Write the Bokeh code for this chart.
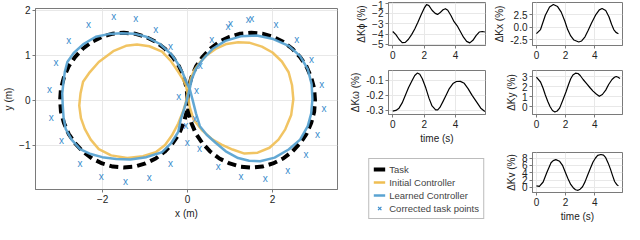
from bokeh.plotting import figure
from bokeh.layouts import row, column
from bokeh.models import (Range1d, FixedTicker, PrintfTickFormatter, ColumnDataSource,
                          Legend, LegendItem)
from bokeh.core.properties import value
from bokeh.embed import file_html
from bokeh.resources import INLINE

FONT = "Liberation Sans"

# ---------------- main trajectory data (m) ----------------
task_x = [0.00, -0.02, -0.09, -0.20, -0.35, -0.54, -0.75, -0.99, -1.24, -1.50, -1.76, -2.01,
          -2.25, -2.46, -2.65, -2.80, -2.91, -2.98, -3.00, -2.98, -2.91, -2.80, -2.65, -2.46,
          -2.25, -2.01, -1.76, -1.50, -1.24, -0.99, -0.75, -0.54, -0.35, -0.20, -0.09, -0.02,
          0.00, 0.02, 0.09, 0.20, 0.35, 0.54, 0.75, 0.99, 1.24, 1.50, 1.76, 2.01, 2.25, 2.46,
          2.65, 2.80, 2.91, 2.98, 3.00, 2.98, 2.91, 2.80, 2.65, 2.46, 2.25, 2.01, 1.76, 1.50,
          1.24, 0.99, 0.75, 0.54, 0.35, 0.20, 0.09, 0.02, 0.00]
task_y = [0.00, 0.26, 0.51, 0.75, 0.96, 1.15, 1.30, 1.41, 1.48, 1.50, 1.48, 1.41,
          1.30, 1.15, 0.96, 0.75, 0.51, 0.26, 0.00, -0.26, -0.51, -0.75, -0.96, -1.15,
          -1.30, -1.41, -1.48, -1.50, -1.48, -1.41, -1.30, -1.15, -0.96, -0.75, -0.51, -0.26,
          0.00, -0.26, -0.51, -0.75, -0.96, -1.15, -1.30, -1.41, -1.48, -1.50, -1.48, -1.41,
          -1.30, -1.15, -0.96, -0.75, -0.51, -0.26, 0.00, 0.26, 0.51, 0.75, 0.96, 1.15, 1.30,
          1.41, 1.48, 1.50, 1.48, 1.41, 1.30, 1.15, 0.96, 0.75, 0.51, 0.26, 0.00]

init_x = [0.00, -0.04, -0.12, -0.22, -0.40, -0.60, -0.90, -1.19, -1.45, -1.75, -2.09, -2.32,
          -2.46, -2.52, -2.55, -2.51, -2.42, -2.28, -2.09, -1.80, -1.42, -1.05, -0.75, -0.53,
          -0.37, -0.22, -0.11, -0.04, 0.00, 0.07, 0.16, 0.29, 0.45, 0.66, 0.92, 1.19, 1.45,
          1.75, 2.00, 2.22, 2.38, 2.46, 2.49, 2.44, 2.30, 2.14, 1.93, 1.65, 1.34, 1.06, 0.80,
          0.59, 0.35, 0.14, 0.05, 0.00]
init_y = [0.15, 0.33, 0.48, 0.63, 0.88, 1.08, 1.20, 1.24, 1.21, 1.09, 0.85, 0.60,
          0.41, 0.15, -0.12, -0.40, -0.64, -0.88, -1.09, -1.23, -1.29, -1.25, -1.16, -1.00,
          -0.79, -0.52, -0.26, -0.05, 0.15, 0.47, 0.67, 0.84, 1.00, 1.14, 1.25, 1.29, 1.28,
          1.19, 1.06, 0.86, 0.62, 0.33, 0.02, -0.33, -0.65, -0.88, -1.06, -1.17, -1.19, -1.10,
          -0.99, -0.88, -0.68, -0.43, -0.15, 0.15]

learn_x = [0.05, -0.04, -0.12, -0.24, -0.38, -0.65, -0.97, -1.26, -1.56, -1.86, -2.16, -2.46,
           -2.68, -2.83, -2.89, -2.92, -2.95, -2.94, -2.92, -2.87, -2.73, -2.53, -2.28, -2.01,
           -1.68, -1.35, -0.97, -0.60, -0.38, -0.22, -0.16, -0.08, -0.01, 0.05, 0.10, 0.20,
           0.36, 0.60, 0.89, 1.25, 1.63, 2.02, 2.38, 2.65, 2.83, 2.92, 2.94, 2.91, 2.83, 2.65,
           2.38, 2.05, 1.71, 1.45, 1.19, 0.90, 0.66, 0.45, 0.29, 0.20, 0.12, 0.05]
learn_y = [0.25, 0.43, 0.62, 0.83, 1.02, 1.25, 1.41, 1.48, 1.49, 1.47, 1.41, 1.24,
           1.05, 0.85, 0.63, 0.41, 0.15, -0.10, -0.38, -0.64, -0.88, -1.09, -1.20, -1.27,
           -1.31, -1.32, -1.27, -1.16, -0.95, -0.71, -0.43, -0.20, 0.02, 0.25, 0.47, 0.70,
           0.91, 1.15, 1.32, 1.42, 1.44, 1.36, 1.21, 0.98, 0.69, 0.36, 0.02, -0.30, -0.58, -0.88,
           -1.10, -1.28, -1.36, -1.35, -1.29, -1.14, -0.95, -0.77, -0.58, -0.30, 0.00, 0.25]

corr_x = [-1.74, -1.22, -2.33, -0.75, -2.80, -0.40, -3.10, -3.25, -3.21, -2.97, -2.53, -2.03,
          -1.46, -0.90, -0.40, -0.01, -0.04, -0.21, 0.30, 0.21, 0.17, 0.28, 0.72, 1.26, 1.83,
          2.36, 2.79, 3.06, 3.21, 3.16, 2.92, 2.57, 2.08, 1.51, 1.43, 1.01, 0.95, 0.57]
corr_y = [1.86, 1.81, 1.68, 1.58, 1.32, 1.19, 0.83, 0.23, -0.38, -0.91, -1.42, -1.71,
          -1.82, -1.72, -1.42, -0.95, -0.56, 0.07, 0.78, 0.21, -0.40, -1.08, -1.47, -1.71, -1.74,
          -1.56, -1.21, -0.76, -0.18, 0.35, 0.91, 1.35, 1.68, 1.81, 1.79, 1.70, 1.65, 1.34]

main_xticks = [-2, 0, 2]
main_yticks = [-1, 0, 1, 2]

# ---------------- gain changes (%) over time (s) ----------------
phi_t = [0.0, 0.2, 0.4, 0.6, 0.8, 1.0, 1.2, 1.4, 1.6, 1.8, 2.0, 2.15, 2.3, 2.5, 2.7, 2.85, 3.0, 3.2,
         3.35, 3.5, 3.7, 3.9, 4.1, 4.3, 4.5, 4.7, 4.9, 5.1, 5.3, 5.5, 5.7, 5.86]
phi_v = [-3.75, -4.05, -4.5, -4.82, -4.8, -4.5, -4.05, -3.5, -2.85, -2.15, -1.5, -1.15, -1.25, -1.7,
         -2.0, -2.1, -1.95, -1.65, -1.55, -1.7, -2.2, -2.8, -3.2, -3.75, -4.3, -4.7, -4.85, -4.6,
         -4.15, -3.8, -3.75, -3.8]

kx_t = [0, 0.28, 0.61, 0.9, 1.16, 1.45, 1.7, 1.95, 2.14, 2.35, 2.57, 2.9, 3.1, 3.33, 3.55, 3.77,
        4.05, 4.31, 4.5, 4.75, 4.97, 5.15, 5.3, 5.45, 5.62]
kx_v = [-1.26, -0.45, 2.37, 4.0, 4.5, 4.1, 3.0, 1.2, -0.45, -1.7, -2.52, -2.9, -2.7, -1.88, -0.6,
        0.81, 2.4, 3.44, 3.7, 3.3, 2.07, 0.6, -0.45, -1.0, -1.26]

om_t = [0.0, 0.2, 0.4, 0.6, 0.81, 1.0, 1.24, 1.4, 1.56, 1.72, 1.88, 2.1, 2.31, 2.5, 2.73, 2.86,
        3.0, 3.2, 3.4, 3.6, 3.83, 4.05, 4.3, 4.55, 4.79, 5.05, 5.32, 5.6, 5.86]
om_v = [-0.305, -0.3, -0.285, -0.25, -0.198, -0.15, -0.1, -0.068, -0.052, -0.06, -0.09, -0.15,
        -0.22, -0.27, -0.296, -0.296, -0.28, -0.24, -0.198, -0.155, -0.122, -0.108, -0.107, -0.12,
        -0.155, -0.2, -0.242, -0.285, -0.307]

ky_t = [0, 0.28, 0.45, 0.61, 0.78, 0.93, 1.1, 1.26, 1.42, 1.59, 1.8, 2.03, 2.2, 2.35, 2.5, 2.68,
        2.85, 3.0, 3.2, 3.44, 3.66, 3.88, 4.1, 4.31, 4.52, 4.75, 4.95, 5.18, 5.35, 5.47, 5.6, 5.73]
ky_v = [2.94, 2.45, 1.85, 1.15, 0.5, 0.0, -0.4, -0.55, -0.45, -0.16, 0.6, 1.47, 2.2, 2.78, 3.15,
        3.33, 3.3, 3.1, 2.7, 2.29, 1.9, 1.54, 1.25, 1.02, 1.2, 1.64, 2.2, 2.7, 2.92, 3.0, 2.92, 2.8]

kv_t = [0, 0.2, 0.46, 0.72, 1.0, 1.15, 1.33, 1.59, 1.8, 1.98, 2.15, 2.35, 2.52, 2.68, 2.85, 3.0,
        3.16, 3.33, 3.5, 3.7, 3.88, 4.05, 4.2, 4.42, 4.6, 4.75, 4.92, 5.08, 5.22, 5.36, 5.5, 5.62]
kv_v = [0.4, 0.25, 1.46, 4.1, 6.7, 7.3, 7.55, 7.1, 5.9, 4.1, 2.5, 0.8, -0.1, -0.65, -0.8, -0.5,
        0.17, 1.5, 3.25, 5.2, 6.9, 8.0, 8.7, 8.95, 8.8, 8.1, 6.6, 4.9, 3.2, 1.6, 0.8, 0.4]

time_ticks = [0, 2, 4]
phi_ticks = [-5, -4, -3, -2, -1]
kx_ticks = [-2.5, 0.0, 2.5]
om_ticks = [-0.3, -0.2, -0.1]
ky_ticks = [0, 1, 2, 3]
kv_ticks = [0, 2, 4, 6, 8]

labels = ["Task", "Initial Controller", "Learned Controller", "Corrected task points"]

ORANGE = "#EFBE52"
BLUE = "#5AA3D2"
XBLUE = "#3A8CCC"
FRAME = "#7a7a7a"
GRID = "#e8e8e8"


def style(p, xticks, yticks, xfmt=None, yfmt=None, fs="10px"):
    p.outline_line_color = FRAME
    p.outline_line_width = 1
    p.xaxis.ticker = FixedTicker(ticks=xticks)
    p.yaxis.ticker = FixedTicker(ticks=yticks)
    if xfmt:
        p.xaxis.formatter = PrintfTickFormatter(format=xfmt)
    if yfmt:
        p.yaxis.formatter = PrintfTickFormatter(format=yfmt)
    for ax in (p.xaxis, p.yaxis):
        ax.axis_line_color = FRAME
        ax.major_tick_line_color = FRAME
        ax.major_tick_out = 3
        ax.major_tick_in = 0
        ax.minor_tick_line_color = None
        ax.major_label_text_font = FONT
        ax.major_label_text_font_size = fs
        ax.major_label_text_color = "#222222"
        ax.axis_label_text_font = FONT
        ax.axis_label_text_font_size = fs
        ax.axis_label_text_font_style = "normal"
        ax.axis_label_text_color = "#222222"
        ax.major_label_standoff = 2
        ax.axis_label_standoff = 2
    p.grid.grid_line_color = GRID
    p.grid.grid_line_width = 1
    p.background_fill_color = "white"
    p.border_fill_color = "white"


# ---------------- main figure ----------------
main = figure(width=344, height=224, x_range=Range1d(-3.58, 3.53), y_range=Range1d(-1.99, 2.04),
              output_backend="svg", toolbar_location=None,
              min_border_left=26, min_border_right=7, min_border_top=8, min_border_bottom=35)
style(main, main_xticks, main_yticks)
main.xaxis.axis_label = "x (m)"
main.yaxis.axis_label = "y (m)"
main.line(task_x, task_y, line_color="black", line_width=4, line_dash="9 5")
main.line(init_x, init_y, line_color=ORANGE, line_width=2.5, line_alpha=0.9, line_join="round")
main.line(learn_x, learn_y, line_color=BLUE, line_width=2.5, line_alpha=0.95, line_join="round")
main.text(x="x", y="y", source=ColumnDataSource(dict(x=corr_x, y=corr_y)), text=value("x"),
          text_color=XBLUE, text_font=value(FONT), text_font_size=value("10px"),
          text_align="center", text_baseline="middle")


def small(t, v, yr, yticks, ylabel, h, top, bottom, left, right, w, xlabel=None, yfmt=None):
    p = figure(width=w, height=h, x_range=Range1d(-0.27, 5.9), y_range=Range1d(*yr),
               output_backend="svg", toolbar_location=None,
               min_border_left=left, min_border_right=right, min_border_top=top,
               min_border_bottom=bottom)
    style(p, time_ticks, yticks, yfmt=yfmt)
    p.yaxis.axis_label = ylabel
    if xlabel:
        p.xaxis.axis_label = xlabel
    p.line(t, v, line_color="black", line_width=1.2, line_join="round")
    return p


WM = 145
WR = 135
f_phi = small(phi_t, phi_v, (-5.1, -0.95), phi_ticks, "ΔKϕ (%)", 63, 2, 18, 44, 4, WM)
f_om = small(om_t, om_v, (-0.327, -0.035), om_ticks, "ΔKω (%)", 83, 7, 32, 44, 4, WM,
             xlabel="time (s)", yfmt="%.1f")
f_kx = small(kx_t, kx_v, (-3.6, 4.9), kx_ticks, "ΔKx (%)", 63, 2, 18, 43, 2, WR, yfmt="%.1f")
f_ky = small(ky_t, ky_v, (-0.8, 3.6), ky_ticks, "ΔKy (%)", 83, 7, 32, 43, 2, WR)
f_kv = small(kv_t, kv_v, (-1.4, 9.5), kv_ticks, "ΔKv (%)", 78, 6, 32, 43, 2, WR,
             xlabel="time (s)")

# ---------------- legend panel ----------------
leg = figure(width=WM, height=78, x_range=Range1d(0, 1), y_range=Range1d(0, 1),
             x_axis_location=None, y_axis_location=None,
             output_backend="svg", toolbar_location=None,
             min_border_left=0, min_border_right=0, min_border_top=0, min_border_bottom=0)
leg.grid.visible = False
leg.outline_line_color = None
off = [-10, -9]
r1 = leg.line(off, off, line_color="black", line_width=4)
r2 = leg.line(off, off, line_color=ORANGE, line_width=2.5)
r3 = leg.line(off, off, line_color=BLUE, line_width=2.5)
r4 = leg.scatter(off, off, marker="x", size=6, line_color=XBLUE, line_width=1.2)
legend = Legend(items=[LegendItem(label=labels[0], renderers=[r1]),
                       LegendItem(label=labels[1], renderers=[r2]),
                       LegendItem(label=labels[2], renderers=[r3]),
                       LegendItem(label=labels[3], renderers=[r4])],
                location="bottom_right", label_text_font=FONT, label_text_font_size="9.5px",
                label_height=12, glyph_height=12, glyph_width=12, spacing=1, padding=4,
                margin=5, label_standoff=4, border_line_color=FRAME, border_line_width=1,
                background_fill_color="white", background_fill_alpha=1.0)
leg.add_layout(legend, "center")

layout = row(main, column(f_phi, f_om, row(leg)), column(f_kx, f_ky, f_kv))

open("out.html", "w").write(file_html(layout, INLINE))
